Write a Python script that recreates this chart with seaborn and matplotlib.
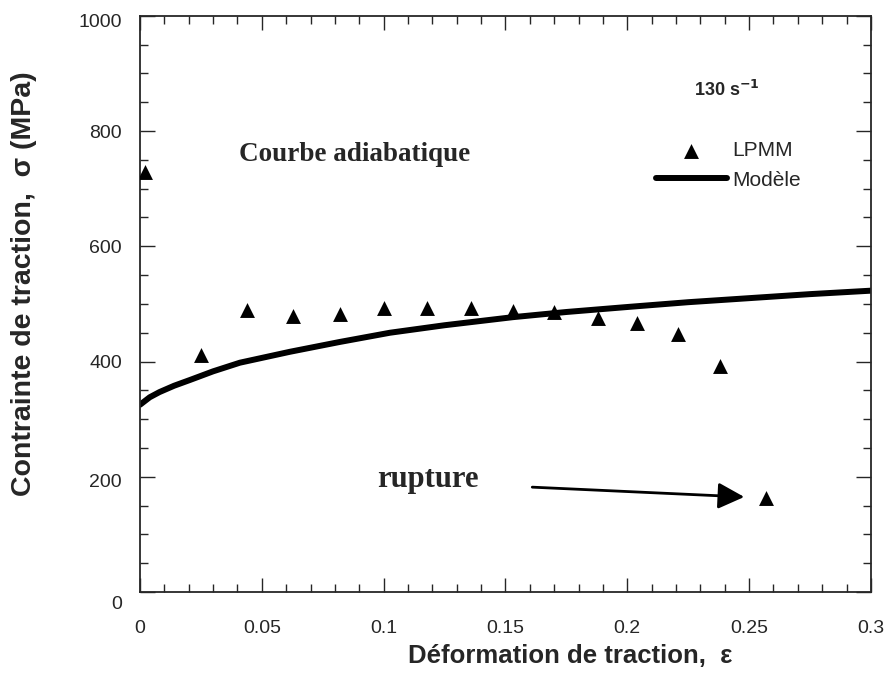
import numpy as np
import pandas as pd
import matplotlib
matplotlib.use("Agg")
import matplotlib.pyplot as plt
import matplotlib.transforms as mtransforms
from matplotlib.ticker import MultipleLocator
import seaborn as sns

# LPMM experimental points (strain, stress MPa)
lpmm_strain = [0.002, 0.025, 0.044, 0.063, 0.082, 0.100, 0.118, 0.136,
               0.153, 0.170, 0.188, 0.204, 0.221, 0.238, 0.257]
lpmm_stress = [729, 411, 490, 479, 483, 493, 493, 493,
               488, 486, 476, 467, 448, 392, 163]

# model curve
model_strain = [0.0, 0.004, 0.008, 0.014, 0.0205, 0.030, 0.041, 0.0616, 0.082,
                0.1026, 0.125, 0.153, 0.175, 0.201, 0.225, 0.250, 0.275, 0.300]
model_stress = [325, 338, 347, 358, 368, 383, 398, 417, 434,
                450, 463, 477, 486, 495, 503, 510, 517, 523]

x_ticks = [0, 0.05, 0.1, 0.15, 0.2, 0.25, 0.3]
x_ticklabels = ["0", "0.05", "0.1", "0.15", "0.2", "0.25", "0.3"]

df_pts = pd.DataFrame({"strain": lpmm_strain, "stress": lpmm_stress})
df_model = pd.DataFrame({"strain": model_strain, "stress": model_stress})

sns.set_style("ticks")
plt.rcParams["font.family"] = ["Liberation Sans", "DejaVu Sans"]

fig = plt.figure(figsize=(8.86, 6.88), dpi=100)
ax = fig.add_axes([0.158, 0.1395, 0.825, 0.8375])

sns.lineplot(data=df_model, x="strain", y="stress", ax=ax, color="black",
             linewidth=4.3, label="Modèle")
sns.scatterplot(data=df_pts, x="strain", y="stress", ax=ax, marker="^",
                color="black", s=115, edgecolor="black", linewidth=0,
                label="LPMM", zorder=3)

ax.set_xlim(0, 0.3)
ax.set_ylim(0, 1000)
ax.xaxis.set_minor_locator(MultipleLocator(0.01))
ax.yaxis.set_major_locator(MultipleLocator(200))
ax.yaxis.set_minor_locator(MultipleLocator(50))
ax.set_xticks(x_ticks)
ax.set_xticklabels(x_ticklabels)
ax.tick_params(which="both", direction="in", top=True, right=True,
               labelsize=14, width=1.0)
ax.tick_params(axis="x", which="major", length=10, pad=20)
ax.tick_params(axis="y", which="major", length=11, pad=13)
ax.tick_params(which="minor", length=6)
for sp in ax.spines.values():
    sp.set_linewidth(1.3)

# a few y tick labels sit below their ticks in the original
fig.canvas.draw()
shifts = {"0": 10, "200": 4, "1000": 5}
for lbl in ax.get_yticklabels():
    d = shifts.get(lbl.get_text(), 0)
    if d:
        off = mtransforms.ScaledTranslation(0, -d / 100, fig.dpi_scale_trans)
        lbl.set_transform(lbl.get_transform() + off)

ax.set_xlabel("Déformation de traction,  ε", fontsize=18.5, fontweight="bold")
ax.xaxis.set_label_coords(0.588, -0.09)
ax.set_ylabel("Contrainte de traction,  σ (MPa)", fontsize=20.5,
              fontweight="bold")
ax.yaxis.set_label_coords(-0.141, 0.535)

serif = ["Liberation Serif", "DejaVu Serif"]
ax.text(0.088, 759, "Courbe adiabatique", family=serif, fontsize=19.5,
        fontweight="bold", ha="center", va="center")
ax.text(0.118, 196, "rupture", family=serif, fontsize=22,
        fontweight="bold", ha="center", va="center")
ax.text(0.241, 871, r"130 s$^{\mathbf{-1}}$", fontsize=13, fontweight="bold",
        ha="center", va="center")
ax.annotate("", xy=(0.248, 165), xytext=(0.161, 182),
            arrowprops=dict(arrowstyle="-|>", color="black", lw=2,
                            mutation_scale=40, shrinkA=0, shrinkB=0))

handles, labels = ax.get_legend_handles_labels()
order = [labels.index("LPMM"), labels.index("Modèle")]
ax.legend([handles[i] for i in order], [labels[i] for i in order],
          loc="upper left", bbox_to_anchor=(0.68, 0.815), frameon=False,
          fontsize=15, handlelength=3.4, handletextpad=0.25, labelspacing=0.5)

fig.savefig("out.png", dpi=100)
